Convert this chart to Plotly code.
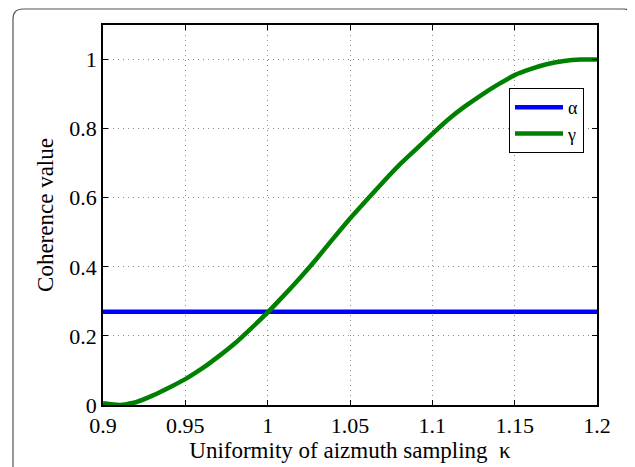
import plotly.graph_objects as go

kappa = [0.90, 0.91, 0.92, 0.93, 0.94, 0.95, 0.96, 0.97, 0.98, 0.99, 1.00,
         1.01, 1.02, 1.03, 1.04, 1.05, 1.06, 1.07, 1.08, 1.09, 1.10,
         1.11, 1.12, 1.13, 1.14, 1.15, 1.16, 1.17, 1.18, 1.19, 1.20]
gamma = [0.005, 0.0, 0.008, 0.027, 0.05, 0.075, 0.105, 0.14, 0.178, 0.222, 0.268,
         0.318, 0.37, 0.425, 0.483, 0.54, 0.593, 0.645, 0.695, 0.74, 0.785,
         0.828, 0.865, 0.898, 0.928, 0.955, 0.973, 0.987, 0.996, 1.0, 1.0]
alpha_value = 0.27
alpha = [alpha_value] * len(kappa)

x_ticks = [0.9, 0.95, 1.0, 1.05, 1.1, 1.15, 1.2]
x_tick_labels = ["0.9", "0.95", "1", "1.05", "1.1", "1.15", "1.2"]
y_ticks = [0, 0.2, 0.4, 0.6, 0.8, 1.0]
y_tick_labels = ["0", "0.2", "0.4", "0.6", "0.8", "1"]

FONT = "Liberation Serif, Times New Roman, serif"

fig = go.Figure()
fig.add_trace(go.Scatter(x=kappa, y=alpha, mode="lines", name="α",
                         line=dict(color="#0000ff", width=4.5)))
fig.add_trace(go.Scatter(x=kappa, y=gamma, mode="lines", name="γ",
                         line=dict(color="#008000", width=4.5,
                                   shape="spline", smoothing=0.5)))

# the page body has an 8px margin, so the figure starts at (8, 8)
OFF = 8
W, H = 635 - OFF, 467 - OFF
PL, PR, PT, PB = 103, 597, 25, 405  # plot area in page pixels
L, R, T, B = PL - OFF, OFF + W - PR, PT - OFF, OFF + H - PB
pw, ph = PR - PL, PB - PT

def px(xp):
    return (xp - PL) / pw

def py(yp):
    return (PB - yp) / ph

# rounded frame around the figure (bottom edge lies outside the picture)
xl, xr, yt, yb = px(13), px(633), py(9), py(480)
rx, ry = 10 / pw, 10 / ph
path = (f"M {xl},{yb} L {xl},{yt - ry} Q {xl},{yt} {xl + rx},{yt} "
        f"L {xr - rx},{yt} Q {xr},{yt} {xr},{yt - ry} L {xr},{yb}")

GRID = dict(showgrid=True, gridcolor="#8a8a8a", griddash="1px,4px", gridwidth=1,
            showline=True, linecolor="black", linewidth=1.5, mirror="ticks",
            ticks="inside", ticklen=5, tickcolor="black",
            tickfont=dict(family=FONT, size=22),
            zeroline=False, automargin=False)

fig.update_layout(
    width=W, height=H,
    margin=dict(l=L, r=R, t=T, b=B, autoexpand=False),
    paper_bgcolor="white", plot_bgcolor="white",
    font=dict(family=FONT, size=21, color="black"),
    showlegend=True,
    legend=dict(x=px(509), y=py(88), xanchor="left", yanchor="top",
                bgcolor="white", bordercolor="black", borderwidth=1,
                font=dict(family=FONT, size=18), tracegroupgap=0,
                itemwidth=48),
    shapes=[dict(type="path", xref="paper", yref="paper", path=path,
                 line=dict(color="#555555", width=1.2), layer="above")],
    xaxis=dict(range=[0.9, 1.2], tickvals=x_ticks, ticktext=x_tick_labels,
               title=dict(text="Uniformity of aizmuth sampling  κ",
                          font=dict(family=FONT, size=23), standoff=1),
               **GRID),
    yaxis=dict(range=[0, 1.1], tickvals=y_ticks, ticktext=y_tick_labels,
               title=dict(text="Coherence value",
                          font=dict(family=FONT, size=23), standoff=9),
               **GRID),
)

fig.write_html("out.html")
